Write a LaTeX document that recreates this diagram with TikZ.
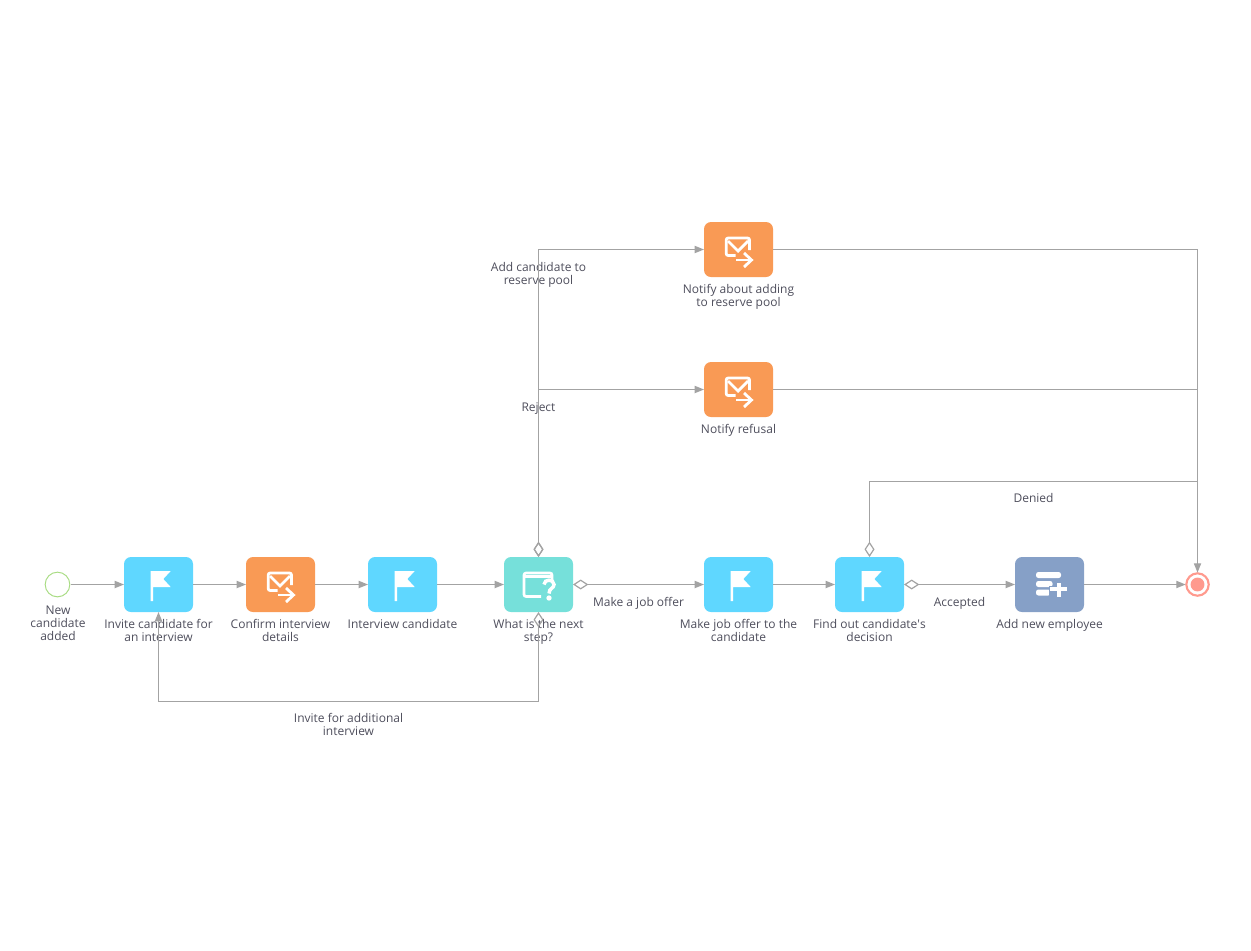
\documentclass[tikz,border=0pt]{standalone}
\usepackage{fontspec}
\setmainfont{Open Sans}
\usetikzlibrary{arrows.meta}
\definecolor{linegray}{HTML}{A3A3A3}
\definecolor{labelink}{HTML}{4E4E5C}
\definecolor{skyfill}{HTML}{5FD7FF}
\definecolor{orangefill}{HTML}{F99A55}
\definecolor{tealfill}{HTML}{76E0DA}
\definecolor{slatefill}{HTML}{86A0C7}
\definecolor{startgreen}{HTML}{A9DC84}
\definecolor{endred}{HTML}{FF9A8E}
\tikzset{
  taskbox/.style={rounded corners=5.25pt,minimum width=51.75pt,minimum height=41.25pt,inner sep=0pt,outer sep=0pt},
  skytask/.style={taskbox,fill=skyfill},
  orangetask/.style={taskbox,fill=orangefill},
  tealtask/.style={taskbox,fill=tealfill},
  slatetask/.style={taskbox,fill=slatefill},
  lab/.style={font=\fontsize{9pt}{9.75pt}\selectfont,text=labelink,align=center,inner sep=0pt},
  flow/.style={draw=linegray,line width=.9pt,-{Triangle[length=7pt,width=5.4pt]}},
  cond/.style={draw=linegray,line width=.9pt,{Diamond[open,length=11.5pt,width=7.5pt]}-{Triangle[length=7pt,width=5.4pt]}},
  bare/.style={draw=linegray,line width=.9pt},
  condbare/.style={draw=linegray,line width=.9pt,{Diamond[open,length=11.5pt,width=7.5pt]}-},
  pics/flagicon/.style={code={
    \fill[white] (-7.8,-13.5)--(12.2,-13.5)--(4.8,-5.5)--(12.2,2.5)--(-5.5,2.5)--(-5.5,16.5)--(-7.8,16.5)--cycle;}},
  pics/mailicon/.style={code={
    \draw[white,line width=2.1pt,rounded corners=1.5pt] (-3,6)--(-12.3,6)--(-12.3,-11.5)--(11,-11.5)--(11,0.5);
    \draw[white,line width=2.1pt] (-10.5,-8.5)--(-0.5,1.5)--(9.5,-8.5);
    \draw[white,line width=2.1pt] (-2.5,10.5)--(13,10.5);
    \draw[white,line width=2.1pt] (5.5,3.5)--(13,10.5)--(5.5,17.5);}},
  pics/askicon/.style={code={
    \draw[white,line width=2pt,rounded corners=1.5pt] (2.5,12)--(-14.5,12)--(-14.5,-11.5)--(13.5,-11.5)--(13.5,-3.5);
    \draw[white,line width=2pt] (-14.5,-8)--(13.5,-8);
    \draw[white,line width=2.6pt] (5.5,0) .. controls (5.5,-5.8) and (15.5,-5.8) .. (15.5,0) .. controls (15.5,4) and (10.5,3.5) .. (10.5,9);
    \fill[white] (10.5,13.5) circle[radius=2pt];}},
  pics/addicon/.style={code={
    \fill[white,rounded corners=1.8pt] (-13.5,-12.5) rectangle (11.5,-6.5);
    \fill[white,rounded corners=1.8pt] (-13.5,-3.5) rectangle (3,2.5);
    \fill[white,rounded corners=1.8pt] (-13.5,5) rectangle (1,11);
    \fill[slatefill] (-1,1) rectangle (19,13);
    \fill[white] (0.5,2.8) rectangle (17.5,6.8);
    \fill[white] (7,-2) rectangle (11,12);}},
}
\begin{document}
\begin{tikzpicture}[x=.75pt,y=-.75pt]
\useasboundingbox (0,0) rectangle (1251,950);
% labels lie beneath the connectors
\node[lab] (lstart) at (58,623) {New\\candidate\\added};
\node[lab] (linvite) at (158.5,630.5) {Invite candidate for\\an interview};
\node[lab] (lconfirm) at (280.5,630.5) {Confirm interview\\details};
\node[lab] (linterview) at (402.5,624) {Interview candidate};
\node[lab] (lnext) at (538.5,632) {What is the next\\step?};
\node[lab] (loffer) at (738.5,630.5) {Make job offer to the\\candidate};
\node[lab] (ldecision) at (869.5,630.5) {Find out candidate\textquotesingle s\\decision};
\node[lab] (ladd) at (1049.5,625.5) {Add new employee};
\node[lab] (lpool) at (738.5,296.5) {Notify about adding\\to reserve pool};
\node[lab] (lrefuse) at (738.5,430) {Notify refusal};
\node[lab] (cpool) at (538.5,275) {Add candidate to\\reserve pool};
\node[lab] (creject) at (538.5,408.5) {Reject};
\node[lab] (cmake) at (638.5,603) {Make a job offer};
\node[lab] (caccept) at (959.5,603.5) {Accepted};
\node[lab] (cdenied) at (1033.5,498) {Denied};
\node[lab] (cagain) at (348.5,724.5) {Invite for additional\\interview};
% tasks
\node[skytask] (invite) at (158.5,584.5) {};
\node[orangetask] (confirm) at (280.5,584.5) {};
\node[skytask] (interview) at (402.5,584.5) {};
\node[tealtask] (next) at (538.5,584.5) {};
\node[skytask] (offer) at (738.5,584.5) {};
\node[skytask] (decision) at (869.5,584.5) {};
\node[slatetask] (add) at (1049.5,584.5) {};
\node[orangetask] (pool) at (738.5,249.5) {};
\node[orangetask] (refuse) at (738.5,389.5) {};
\node[circle,draw=startgreen,line width=.75pt,minimum size=18.5pt,inner sep=0pt,outer sep=1pt] (start) at (57.5,584.5) {};
\node[circle,draw=endred,line width=1.6pt,fill=white,minimum size=16.8pt,inner sep=0pt,outer sep=.5pt] (end) at (1197.5,584.5) {};
\fill[endred] (end.center) circle[radius=5.2pt];
% icons
\pic at (invite) {flagicon};
\pic at (interview) {flagicon};
\pic at (offer) {flagicon};
\pic at (decision) {flagicon};
\pic at (confirm) {mailicon};
\pic at (pool) {mailicon};
\pic at (refuse) {mailicon};
\pic at (next) {askicon};
\pic at (add) {addicon};
% connectors
\coordinate (lowturn) at (538.5,701.5);
\coordinate (deniedjoin) at (1197.5,481.5);
\draw[flow] (start) -- (invite);
\draw[flow] (invite) -- (confirm);
\draw[flow] (confirm) -- (interview);
\draw[flow] (interview) -- (next);
\draw[cond] (next.east) -- (offer.west);
\draw[flow] (offer) -- (decision);
\draw[cond] (decision.east) -- (add.west);
\draw[flow] (add) -- (end);
\draw[cond] (next.north) |- (pool.west);
\draw[cond] (next.north) |- (refuse.west);
\draw[cond] (next.south) -- (lowturn) -| (invite.south);
\draw[condbare] (decision.north) |- (deniedjoin);
\draw[flow] (pool.east) -| (end.north);
\draw[bare] (refuse.east) -| (deniedjoin);
\end{tikzpicture}
\end{document}
